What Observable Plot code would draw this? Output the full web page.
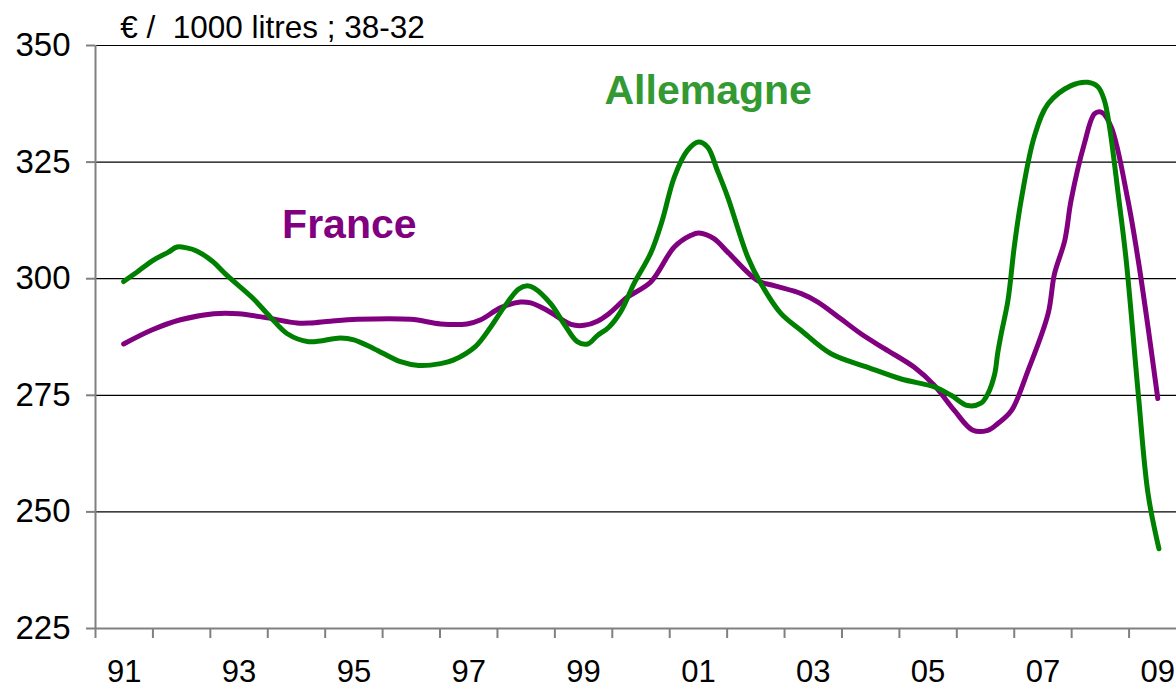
<!DOCTYPE html>
<html><head><meta charset="utf-8">
<script src="https://cdn.jsdelivr.net/npm/d3@7"></script>
<script src="https://cdn.jsdelivr.net/npm/@observablehq/plot@0.6"></script>
<style>body{margin:0;background:#fff;overflow:hidden} svg text{white-space:pre}</style>
</head><body><div id="chart"></div>
<script>
const yTicks = [225, 250, 275, 300, 325, 350];
const gridValues = [250, 275, 300, 325, 350];
const yearBounds = [1991,1992,1993,1994,1995,1996,1997,1998,1999,2000,2001,2002,2003,2004,2005,2006,2007,2008,2009,2010];
const labelYears = [1991,1993,1995,1997,1999,2001,2003,2005,2007,2009];
const xLabels = ["91","93","95","97","99","01","03","05","07","09"];

const deYears = [1991.49,1991.72,1992.01,1992.27,1992.42,1992.59,1992.77,1993.03,1993.29,1993.75,1994.05,1994.34,1994.71,1995.27,1995.50,1995.85,1996.31,1996.63,1997.01,1997.24,1997.62,1997.88,1998.11,1998.37,1998.52,1998.64,1998.93,1999.16,1999.39,1999.57,1999.74,1999.94,2000.15,2000.38,2000.67,2000.87,2001.08,2001.31,2001.50,2001.66,2001.83,2002.01,2002.36,2002.59,2002.94,2003.29,2003.81,2004.45,2005.03,2005.61,2005.90,2006.19,2006.42,2006.54,2006.66,2006.71,2006.77,2006.89,2007.00,2007.12,2007.35,2007.59,2007.99,2008.28,2008.46,2008.57,2008.66,2008.81,2008.95,2009.16,2009.33,2009.52];
const deValues = [299.4,301.4,304.0,305.7,306.8,306.6,305.9,303.8,300.7,295.7,291.7,288.2,286.5,287.3,286.9,285.0,282.2,281.4,281.8,282.6,285.5,289.6,293.8,297.8,298.5,298.0,294.6,290.3,286.5,286.0,287.8,289.6,293.0,299.0,305.5,312.5,321.8,327.5,329.3,328.2,323.2,317.5,304.6,298.9,292.5,288.9,283.9,281.0,278.5,276.8,275.0,272.8,273.3,275.3,279.6,283.9,288.0,295.3,306.8,316.8,330.5,337.5,341.4,342.1,341.1,338.2,332.5,318.2,303.9,275.3,253.9,242.1];

const frYears = [1991.49,1991.98,1992.48,1993.06,1993.49,1993.99,1994.51,1994.74,1995.09,1995.56,1996.49,1997.01,1997.47,1997.71,1998.06,1998.40,1998.58,1998.87,1999.28,1999.51,1999.74,1999.94,2000.26,2000.67,2001.08,2001.37,2001.51,2001.77,2002.01,2002.53,2002.82,2003.29,2003.58,2003.98,2004.33,2004.74,2005.26,2005.61,2005.96,2006.28,2006.54,2006.71,2006.95,2007.24,2007.59,2007.70,2007.88,2007.99,2008.22,2008.40,2008.52,2008.69,2008.98,2009.16,2009.33,2009.50];
const frValues = [286.0,289.0,291.2,292.5,292.5,291.6,290.5,290.5,290.9,291.3,291.3,290.3,290.3,291.2,293.8,295.0,294.8,293.2,290.2,290.0,290.9,292.5,296.0,299.3,306.8,309.3,309.8,308.6,305.7,299.6,298.5,296.8,295.0,291.4,288.2,285.0,281.0,277.1,271.7,267.5,267.5,268.9,271.7,280.3,292.5,301.0,308.2,316.8,328.9,335.4,335.7,332.5,316.8,303.9,289.6,274.3];

const annotations = [
  {text: "Allemagne", year: 2001.67, value: 340.3, color: "#339933"},
  {text: "France", year: 1995.42, value: 311.6, color: "#800080"}
];
const title = {text: "€ /\u00a0 1000 litres ; 38-32", year: 1991.43, value: 353.8};

const de = deYears.map((t, i) => ({t, v: deValues[i]}));
const fr = frYears.map((t, i) => ({t, v: frValues[i]}));

const chart = Plot.plot({
  width: 1176, height: 690,
  marginLeft: 95, marginRight: -10, marginTop: 45, marginBottom: 62,
  style: {fontFamily: "Arial, 'Liberation Sans', sans-serif", fontSize: "31px", color: "#000", background: "#fff", overflow: "visible"},
  x: {domain: [yearBounds[0], yearBounds[yearBounds.length - 1]]},
  y: {domain: [yTicks[0], yTicks[yTicks.length - 1]]},
  marks: [
    Plot.ruleY(gridValues, {stroke: "#000", strokeWidth: 1.2}),
    Plot.line(fr, {x: "t", y: "v", stroke: "#800080", strokeWidth: 5, curve: "catmull-rom"}),
    Plot.line(de, {x: "t", y: "v", stroke: "#008000", strokeWidth: 5, curve: "catmull-rom"}),
    Plot.ruleX([yearBounds[0]], {stroke: "#808080", strokeWidth: 2}),
    Plot.ruleY([yTicks[0]], {stroke: "#808080", strokeWidth: 2}),
    Plot.axisY({ticks: yTicks, tickSize: 9, tickPadding: 16, tickFormat: d => String(d), stroke: "#808080", strokeWidth: 2, fill: "#000", fontSize: 33}),
    Plot.axisX({ticks: yearBounds, tickSize: 10, tickFormat: () => "", stroke: "#808080", strokeWidth: 2}),
    Plot.axisX({ticks: labelYears.map(y => y + 0.5), tickSize: 0, tickPadding: 31, tickFormat: (d, i) => xLabels[i], fill: "#000", fontSize: 31}),
    Plot.text(annotations, {x: "year", y: "value", text: "text", fill: "color", fontSize: 41, fontWeight: "bold", textAnchor: "middle", lineAnchor: "middle"}),
    Plot.text([title], {x: "year", y: "value", text: "text", fill: "#000", fontSize: 31.5, textAnchor: "start", lineAnchor: "middle"})
  ]
});
document.getElementById("chart").appendChild(chart);
</script>
</body></html>
